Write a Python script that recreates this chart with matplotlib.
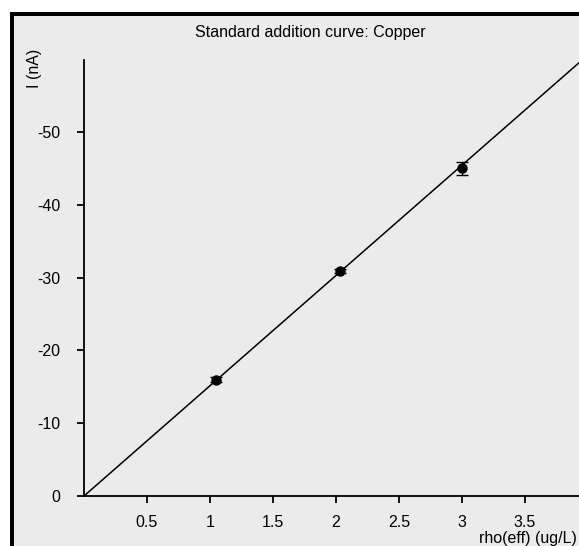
import numpy as np
import matplotlib.pyplot as plt
from matplotlib.patches import Rectangle

plt.rcParams['font.family'] = ['Liberation Sans', 'DejaVu Sans']

# data
conc = [1.05, 2.03, 3.0]          # rho(eff) (ug/L)
current = [-16.0, -30.9, -45.0]   # I (nA)
current_err = [0.4, 0.3, 0.9]
slope = -15.15
intercept = 0.0
line_x = [0.0, 4.3]

xticks = [0.5, 1, 1.5, 2, 2.5, 3, 3.5]
yticks = [0, -10, -20, -30, -40, -50]

W, H = 579, 546
bg = '#ebebeb'
fs = 11.5
fig = plt.figure(figsize=(W / 100, H / 100), dpi=100)
fig.patch.set_facecolor('white')

# grey panel with thick black frame (cut off at right/bottom)
frame = Rectangle((12 / W, -0.2), 1.5, (H - 14) / H + 0.2, transform=fig.transFigure,
                  facecolor=bg, edgecolor='black', linewidth=4 * 0.72, zorder=-5)
fig.patches.append(frame)

# axes in pixel units: x0=84, y0=496 (from top), 126 px per ug/L, 7.28 px per nA
xmax = 4.3
ax = fig.add_axes([84 / W, 50 / H, xmax * 126 / W, 436 / H])
ax.set_zorder(2)
ax.set_facecolor('none')
ax.set_xlim(0, xmax)
ax.set_ylim(0, -59.9)

ax.spines['top'].set_visible(False)
ax.spines['right'].set_visible(False)
for s in ('left', 'bottom'):
    ax.spines[s].set_linewidth(1.3)

ax.set_xticks(xticks)
ax.set_xticklabels([('%g' % t) for t in xticks])
ax.set_yticks(yticks)
ax.set_yticklabels([('%g' % t) for t in yticks])
ax.tick_params(direction='out', length=5, width=1.3, labelsize=fs, pad=9)
ax.tick_params(axis='y', pad=12)

xs = np.array(line_x)
ax.plot(xs, slope * xs + intercept, color='black', lw=1.1)
ax.errorbar(conc, current, yerr=current_err, fmt='o', color='black',
            markersize=6.5, capsize=4, elinewidth=1, capthick=1)

fig.text(310 / W, 1 - 33 / H, 'Standard addition curve: Copper',
         ha='center', va='center', fontsize=fs)
fig.text(35 / W, 1 - 68 / H, 'I (nA)', rotation=90, ha='center', va='center',
         fontsize=fs)
fig.text(577 / W, 1 - 539 / H, 'rho(eff) (ug/L)', ha='right', va='center',
         fontsize=fs)

fig.savefig('out.png', dpi=100, facecolor=fig.get_facecolor())
